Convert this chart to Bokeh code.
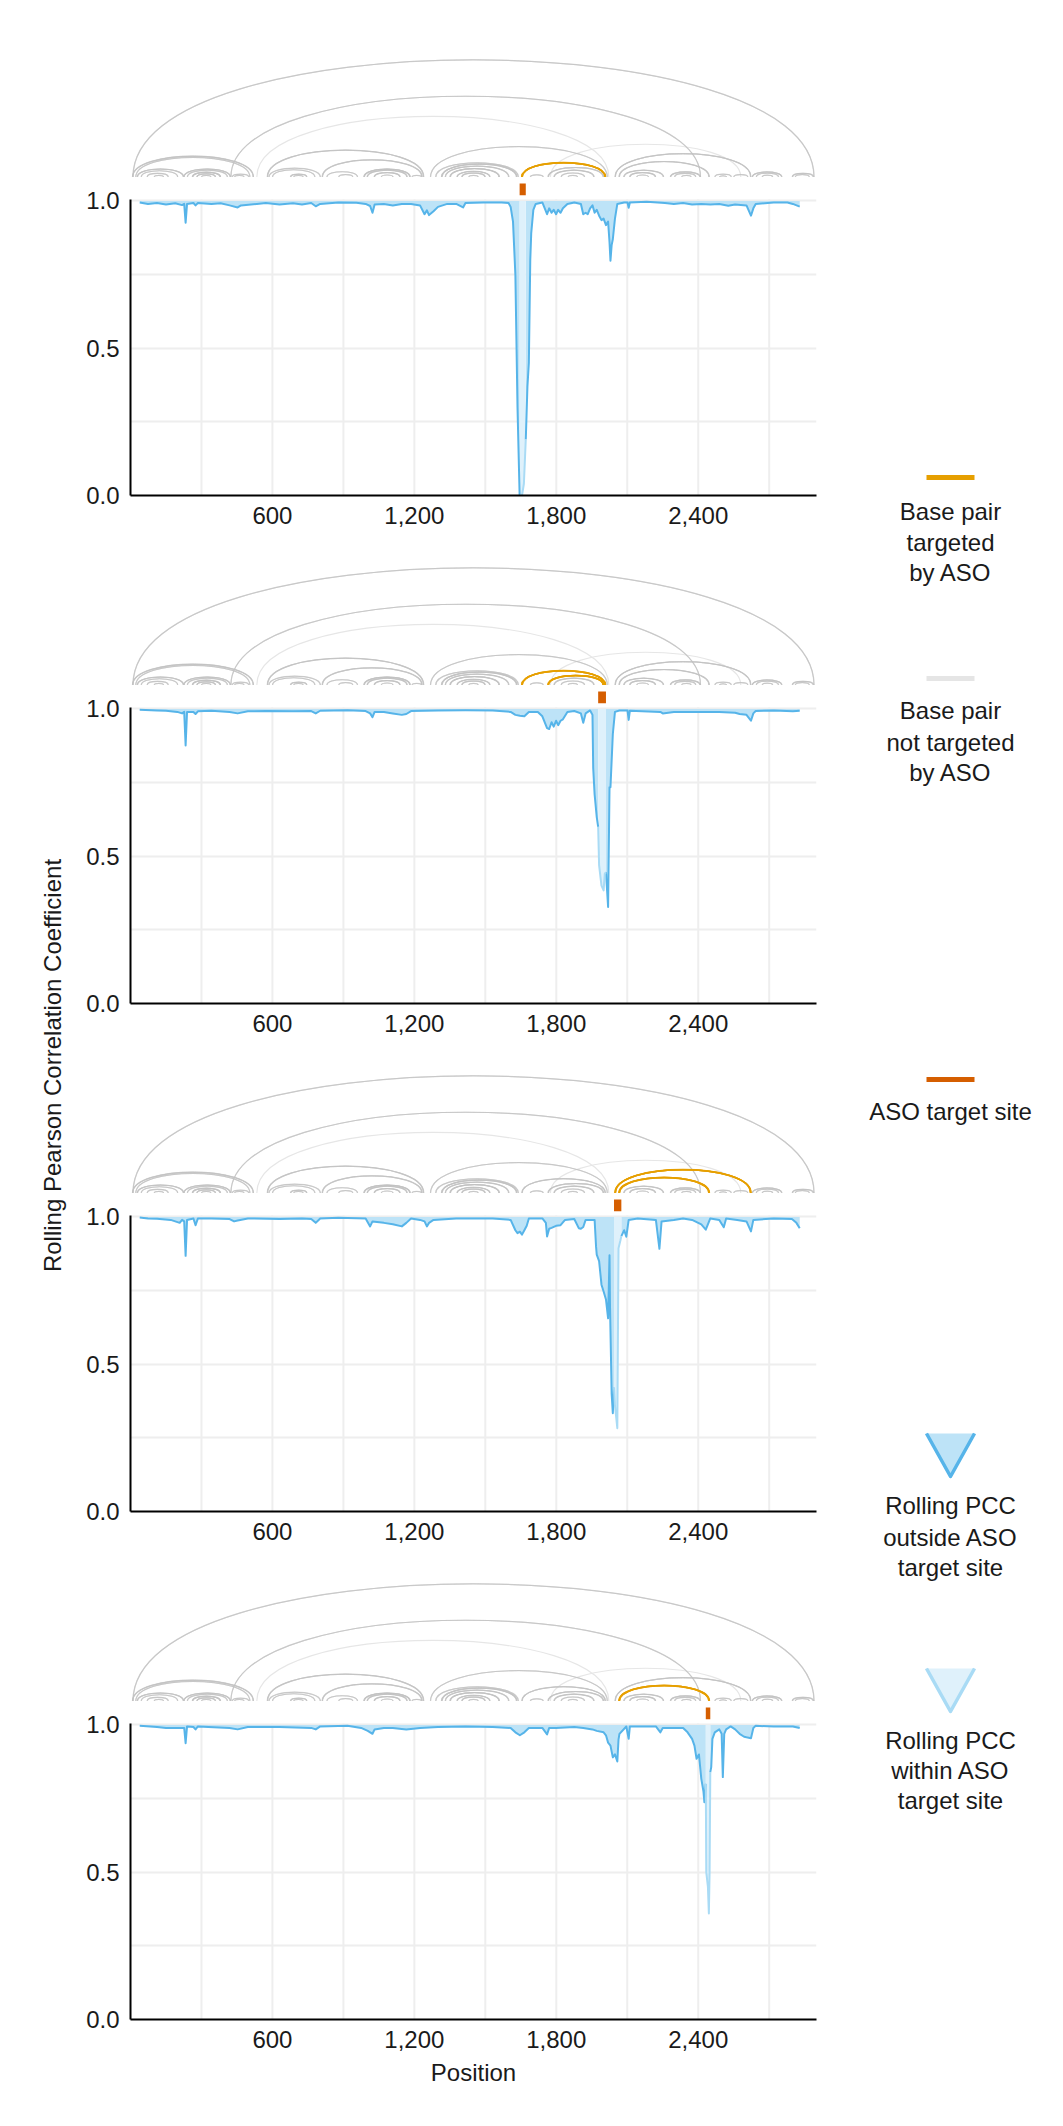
import math
from bokeh.plotting import figure
from bokeh.layouts import row, column
from bokeh.models import Range1d, FixedTicker, NumeralTickFormatter
from bokeh.embed import file_html
from bokeh.resources import INLINE
from bokeh.core.properties import value

# helices of the RNA structure: (5' position, 3' position, number of base pairs)
helices = [
    (10, 2890, 2), (424, 2410, 2),
    (8, 520, 3), (22, 505, 2), (28, 225, 3), (45, 200, 2), (70, 160, 2), (100, 140, 2),
    (225, 423, 3), (240, 410, 2), (261, 381, 4), (280, 360, 3), (300, 340, 2),
    (430, 500, 2), (440, 480, 2),
    (578, 1240, 3), (585, 803, 2), (600, 780, 2), (676, 746, 3), (690, 730, 2),
    (810, 1233, 3), (830, 960, 2), (880, 940, 2), (986, 1183, 4), (1000, 1170, 3),
    (1030, 1140, 3), (1060, 1110, 2), (1190, 1230, 2),
    (1268, 2016, 2), (1290, 1640, 2), (1314, 1634, 4), (1330, 1600, 3), (1350, 1560, 4),
    (1380, 1520, 3), (1400, 1500, 3), (1430, 1470, 2),
    (1654, 2008, 3), (1690, 1745, 2), (1765, 2000, 3), (1790, 1960, 3), (1820, 1920, 2),
    (1850, 1890, 2),
    (2048, 2623, 3), (2065, 2447, 3), (2085, 2254, 3), (2110, 2220, 3), (2140, 2190, 2),
    (2282, 2409, 3), (2300, 2390, 2), (2330, 2370, 2), (2470, 2540, 2), (2490, 2520, 2),
    (2550, 2610, 2),
    (2628, 2754, 3), (2645, 2740, 2), (2670, 2715, 2), (2797, 2888, 3), (2810, 2870, 2),
]
faint_helices = [(534, 2022, 1), (1775, 2580, 1)]

# ASO target sites, one per panel
target_sites = [(1645, 1671), (1977, 2010), (2044, 2075), (2432, 2451)]

# rolling PCC, (position, value)
pcc_1 = [(39, 0.995), (74, 0.99), (112, 0.993), (150, 0.988), (189, 0.992), (218, 0.986), (227, 0.99),
         (233, 0.926), (239, 0.99), (266, 0.993), (275, 0.985), (285, 0.993), (342, 0.99), (381, 0.992),
         (419, 0.985), (453, 0.978), (467, 0.985), (534, 0.99), (572, 0.993), (630, 0.988), (687, 0.992),
         (725, 0.988), (764, 0.993), (783, 0.982), (802, 0.99), (879, 0.995), (955, 0.994), (994, 0.99),
         (1013, 0.983), (1023, 0.96), (1032, 0.988), (1071, 0.99), (1109, 0.985), (1147, 0.99), (1186, 0.99),
         (1224, 0.985), (1243, 0.955), (1253, 0.968), (1262, 0.952), (1281, 0.965), (1300, 0.98), (1339, 0.99),
         (1377, 0.99), (1406, 0.978), (1416, 0.993), (1492, 0.995), (1569, 0.995), (1598, 0.993), (1607, 0.98),
         (1617, 0.93), (1627, 0.75), (1636, 0.3), (1645, 0.0), (1655, 0.0), (1663, 0.04), (1671, 0.19),
         (1678, 0.37), (1684, 0.45), (1690, 0.8), (1694, 0.89), (1703, 0.97), (1713, 0.99), (1741, 0.995),
         (1761, 0.955), (1770, 0.975), (1780, 0.96), (1789, 0.97), (1799, 0.955), (1808, 0.97), (1818, 0.96),
         (1828, 0.975), (1847, 0.99), (1876, 0.995), (1904, 0.99), (1914, 0.955), (1924, 0.96), (1933, 0.955),
         (1943, 0.975), (1953, 0.985), (1962, 0.96), (1971, 0.97), (1981, 0.95), (1991, 0.935), (2000, 0.94),
         (2010, 0.918), (2019, 0.93), (2025, 0.86), (2029, 0.797), (2034, 0.85), (2039, 0.87), (2048, 0.94),
         (2058, 0.99), (2087, 0.995), (2101, 0.995), (2106, 0.977), (2111, 0.995), (2182, 0.997), (2259, 0.993),
         (2297, 0.99), (2336, 0.993), (2374, 0.988), (2413, 0.99), (2451, 0.988), (2489, 0.99), (2527, 0.984),
         (2556, 0.988), (2604, 0.985), (2623, 0.95), (2633, 0.975), (2643, 0.99), (2719, 0.995), (2777, 0.995),
         (2800, 0.99), (2829, 0.981)]
pcc_2 = [(39, 0.997), (112, 0.995), (150, 0.994), (198, 0.99), (218, 0.985), (227, 0.99), (233, 0.876),
         (239, 0.99), (266, 0.99), (275, 0.983), (285, 0.992), (342, 0.994), (419, 0.99), (453, 0.985),
         (496, 0.992), (572, 0.993), (687, 0.992), (764, 0.993), (783, 0.985), (802, 0.994), (917, 0.996),
         (994, 0.993), (1013, 0.985), (1023, 0.972), (1032, 0.99), (1071, 0.99), (1109, 0.985), (1147, 0.98),
         (1166, 0.983), (1186, 0.993), (1300, 0.995), (1416, 0.996), (1531, 0.995), (1607, 0.99), (1627, 0.98),
         (1646, 0.977), (1665, 0.975), (1684, 0.99), (1722, 0.99), (1741, 0.975), (1761, 0.935), (1770, 0.932),
         (1780, 0.955), (1789, 0.94), (1799, 0.96), (1808, 0.945), (1818, 0.96), (1828, 0.965), (1847, 0.99),
         (1876, 0.993), (1904, 0.985), (1914, 0.953), (1924, 0.985), (1943, 0.995), (1953, 0.98), (1956, 0.8),
         (1962, 0.71), (1971, 0.633), (1977, 0.6), (1981, 0.469), (1991, 0.4), (2000, 0.384), (2005, 0.44),
         (2010, 0.446), (2019, 0.328), (2025, 0.734), (2029, 0.734), (2039, 0.915), (2048, 0.99), (2067, 0.995),
         (2101, 0.995), (2106, 0.963), (2111, 0.994), (2240, 0.99), (2250, 0.985), (2297, 0.99), (2374, 0.99),
         (2489, 0.99), (2556, 0.987), (2575, 0.983), (2604, 0.98), (2623, 0.96), (2633, 0.985), (2643, 0.993),
         (2719, 0.995), (2800, 0.992), (2829, 0.994)]
pcc_3 = [(39, 0.998), (74, 0.995), (112, 0.994), (170, 0.99), (189, 0.985), (208, 0.98), (218, 0.99),
         (227, 0.985), (233, 0.868), (239, 0.99), (266, 0.995), (275, 0.972), (285, 0.995), (342, 0.995),
         (419, 0.993), (438, 0.985), (453, 0.988), (496, 0.995), (630, 0.993), (725, 0.995), (764, 0.993),
         (783, 0.98), (802, 0.995), (879, 0.997), (994, 0.995), (1013, 0.968), (1023, 0.985), (1071, 0.98),
         (1109, 0.975), (1147, 0.968), (1166, 0.98), (1186, 0.995), (1224, 0.99), (1243, 0.985), (1253, 0.968),
         (1262, 0.98), (1281, 0.99), (1377, 0.995), (1531, 0.995), (1607, 0.99), (1627, 0.955), (1636, 0.945),
         (1646, 0.95), (1655, 0.94), (1665, 0.955), (1675, 0.97), (1684, 0.995), (1741, 0.995), (1756, 0.98),
         (1761, 0.934), (1770, 0.96), (1780, 0.963), (1799, 0.97), (1818, 0.972), (1837, 0.99), (1876, 0.993),
         (1895, 0.962), (1904, 0.96), (1914, 0.966), (1924, 0.99), (1962, 0.99), (1968, 0.9), (1971, 0.872),
         (1981, 0.85), (1991, 0.77), (2000, 0.747), (2010, 0.72), (2019, 0.656), (2025, 0.87), (2027, 0.7),
         (2034, 0.4), (2039, 0.334), (2044, 0.42), (2048, 0.36), (2058, 0.283), (2063, 0.894), (2071, 0.92),
         (2075, 0.935), (2087, 0.955), (2096, 0.933), (2106, 0.99), (2144, 0.995), (2221, 0.99), (2236, 0.892),
         (2245, 0.985), (2297, 0.99), (2336, 0.995), (2374, 0.99), (2413, 0.975), (2432, 0.957), (2451, 0.995),
         (2489, 0.99), (2508, 0.965), (2518, 0.995), (2565, 0.99), (2604, 0.985), (2623, 0.951), (2633, 0.99),
         (2719, 0.995), (2796, 0.993), (2815, 0.98), (2829, 0.962)]
pcc_4 = [(39, 0.997), (112, 0.993), (150, 0.99), (208, 0.99), (227, 0.99), (233, 0.938), (239, 0.995),
         (266, 0.993), (275, 0.985), (285, 0.995), (419, 0.99), (453, 0.985), (496, 0.993), (630, 0.993),
         (764, 0.99), (783, 0.985), (802, 0.995), (917, 0.997), (975, 0.99), (1003, 0.98), (1023, 0.97),
         (1032, 0.985), (1071, 0.99), (1109, 0.99), (1166, 0.985), (1224, 0.99), (1300, 0.993), (1416, 0.995),
         (1531, 0.993), (1607, 0.99), (1627, 0.975), (1646, 0.965), (1665, 0.975), (1684, 0.99), (1741, 0.99),
         (1761, 0.968), (1770, 0.99), (1799, 0.99), (1876, 0.993), (1914, 0.99), (1953, 0.985), (1971, 0.98),
         (2000, 0.975), (2010, 0.965), (2019, 0.94), (2029, 0.93), (2039, 0.89), (2048, 0.9), (2058, 0.876),
         (2063, 0.95), (2067, 0.97), (2096, 0.995), (2106, 0.953), (2111, 0.995), (2221, 0.995), (2240, 0.975),
         (2250, 0.99), (2336, 0.99), (2355, 0.975), (2374, 0.953), (2384, 0.93), (2393, 0.885), (2403, 0.9),
         (2413, 0.817), (2422, 0.775), (2426, 0.738), (2432, 0.8), (2434, 0.5), (2441, 0.45), (2445, 0.36),
         (2448, 0.5), (2451, 0.84), (2455, 0.857), (2460, 0.953), (2470, 0.975), (2489, 0.985), (2499, 0.97),
         (2504, 0.823), (2510, 0.97), (2518, 0.985), (2537, 0.995), (2556, 0.985), (2575, 0.97), (2594, 0.96),
         (2604, 0.958), (2623, 0.955), (2633, 0.99), (2643, 0.997), (2719, 0.995), (2800, 0.995), (2829, 0.99)]
pcc_series = [pcc_1, pcc_2, pcc_3, pcc_4]

x_ticks = [600, 1200, 1800, 2400]
x_grid = [300, 600, 900, 1200, 1500, 1800, 2100, 2400, 2700]
y_ticks = [0.0, 0.5, 1.0]
y_grid = [0.25, 0.5, 0.75, 1.0]

FONT = "Liberation Sans"
INK = "#1a1a1a"
BLUE = "#56b4e9"
BLUE_FILL = "#bde3f7"
BLUE_IN = "#a9dbf5"
BLUE_IN_FILL = "#dff1fb"
ORANGE = "#e69f00"
RED = "#d55e00"
ARC_GREY = "#c2c2c2"
GRID = "#eeeeee"

LEFT_W = 70          # y-label column, page x 0..70
FRAME_W = 686
BL, BR = 60, 10
PW = BL + FRAME_W + BR
LEG_W = 221
ARC_H = 145          # px above the PCC frame used for the arcs
DATA_H = 296         # px of the PCC frame
BASE_GAP = 22.5      # px between arc baseline and top of PCC frame
TOP_PAD = 54
GAP_B = 67
LAST_B = 92
Y_TOP = 1.005
ARC_RATIO = 0.172
TOTAL_H = TOP_PAD + 4 * (ARC_H + DATA_H) + 3 * GAP_B + LAST_B

xr = Range1d(0, 2900)
px_per_unit = FRAME_W / 2900


def pairs_of(hel):
    out = []
    for i, j, n in hel:
        for k in range(n):
            out.append((i + k, j - k))
    return out


def draw_arcs(p, pairs, color, lw, alpha):
    if not pairs:
        return
    x0 = [a for a, b in pairs]
    x1 = [b for a, b in pairs]
    cy = [ARC_RATIO * (b - a) * px_per_unit * 4 / 3 for a, b in pairs]
    zero = [0] * len(pairs)
    p.bezier(x0=x0, y0=zero, x1=x1, y1=zero, cx0=x0, cy0=cy, cx1=x1, cy1=cy,
             line_color=color, line_width=lw, line_alpha=alpha, y_range_name="arc")


def panel(points, site, first, last):
    top = TOP_PAD if first else 0
    bottom = LAST_B if last else GAP_B
    frame_h = ARC_H + DATA_H
    p = figure(width=PW, height=frame_h + top + bottom, x_range=xr,
               y_range=Range1d(0, Y_TOP * frame_h / DATA_H),
               toolbar_location=None, output_backend="svg", min_border_left=BL,
               min_border_right=BR, min_border_top=top, min_border_bottom=bottom,
               outline_line_color=None)
    # arc coordinates in px, baseline at 0
    p.extra_y_ranges = {"arc": Range1d(-BASE_GAP - DATA_H, ARC_H - BASE_GAP)}

    # vertical grid only inside the PCC area
    p.segment(x0=x_grid, y0=[0] * len(x_grid), x1=x_grid, y1=[Y_TOP] * len(x_grid),
              line_color=GRID, line_width=2)

    s, e = site
    hit = lambda a, b: s <= a <= e or s <= b <= e
    pairs = pairs_of(helices)
    draw_arcs(p, pairs_of(faint_helices), "#e6e6e6", 1.2, 1.0)
    draw_arcs(p, [q for q in pairs if not hit(*q)], ARC_GREY, 1.1, 0.7)
    draw_arcs(p, [q for q in pairs if hit(*q)], ORANGE, 1.6, 1.0)
    p.quad(left=[s], right=[e], bottom=[-18.3], top=[-6.6], fill_color=RED, line_color=None,
           y_range_name="arc")

    left = [q for q in points if q[0] <= s]
    inside = [q for q in points if s <= q[0] <= e]
    right = [q for q in points if q[0] >= e]
    for seg in (left, right):
        p.varea(x=[a for a, b in seg], y1=[b for a, b in seg], y2=[1.0] * len(seg),
                fill_color=BLUE_FILL)
    p.varea(x=[a for a, b in inside], y1=[b for a, b in inside], y2=[1.0] * len(inside),
            fill_color=BLUE_IN_FILL)
    for seg in (left, right):
        p.line([a for a, b in seg], [b for a, b in seg], line_color=BLUE, line_width=2,
               line_join="round")
    p.line([a for a, b in inside], [b for a, b in inside], line_color=BLUE_IN, line_width=2,
           line_join="round")

    p.xgrid.visible = False
    p.ygrid.ticker = FixedTicker(ticks=y_grid)
    p.ygrid.grid_line_color = GRID
    p.ygrid.grid_line_width = 2
    p.xaxis.ticker = FixedTicker(ticks=x_ticks)
    p.yaxis.ticker = FixedTicker(ticks=y_ticks)
    p.yaxis.bounds = (0, Y_TOP)
    p.xaxis.formatter = NumeralTickFormatter(format="0,0")
    p.yaxis.formatter = NumeralTickFormatter(format="0.0")
    p.axis.axis_line_color = "black"
    p.axis.axis_line_width = 2
    p.axis.major_tick_line_color = None
    p.axis.minor_tick_line_color = None
    p.axis.major_tick_out = 0
    p.axis.major_label_text_font = FONT
    p.axis.major_label_text_font_size = "24px"
    p.axis.major_label_text_color = INK
    p.axis.major_label_standoff = 11
    if last:
        p.xaxis.axis_label = "Position"
        p.xaxis.axis_label_text_font = FONT
        p.xaxis.axis_label_text_font_size = "24px"
        p.xaxis.axis_label_text_font_style = "normal"
        p.xaxis.axis_label_text_color = INK
        p.xaxis.axis_label_standoff = 8
    return p


panels = [panel(pts, site, i == 0, i == 3)
          for i, (pts, site) in enumerate(zip(pcc_series, target_sites))]


def blank(width, x0):
    # page-pixel coordinates, y downwards
    p = figure(width=width, height=TOTAL_H, x_range=Range1d(x0, x0 + width),
               y_range=Range1d(TOTAL_H, 0), x_axis_location=None, y_axis_location=None,
               toolbar_location=None, output_backend="svg", min_border=0,
               outline_line_color=None)
    p.xgrid.visible = False
    p.ygrid.visible = False
    return p


ylab = blank(LEFT_W, 0)
ylab.text(x=[52], y=[1065], text=["Rolling Pearson Correlation Coefficient"], angle=math.pi / 2,
          text_font=value(FONT), text_font_size="24px", text_align="center",
          text_baseline="middle", text_color=INK)

leg = blank(LEG_W, LEFT_W + PW)
for yy, col in [(477, ORANGE), (678, "#e5e5e5"), (1079, RED)]:
    leg.line([926, 974], [yy, yy], line_color=col, line_width=5)
for top, fill, edge in [(1433, BLUE_FILL, BLUE), (1668, BLUE_IN_FILL, BLUE_IN)]:
    leg.patch([925, 975, 950], [top, top, top + 43], fill_color=fill, line_color=None)
    leg.line([926, 950, 974], [top, top + 43, top], line_color=edge, line_width=3.5,
             line_join="round")
legend_text = [
    ("Base pair", 511), ("targeted", 542), ("by ASO", 572),
    ("Base pair", 710), ("not targeted", 742), ("by ASO", 772),
    ("ASO target site", 1111),
    ("Rolling PCC", 1505), ("outside ASO", 1537), ("target site", 1567),
    ("Rolling PCC", 1740), ("within ASO", 1770), ("target site", 1800),
]
leg.text(x=[950] * len(legend_text), y=[t[1] for t in legend_text], text=[t[0] for t in legend_text],
         text_font=value(FONT), text_font_size="24px", text_align="center",
         text_baseline="middle", text_color=INK)

layout = row(ylab, column(*panels), leg)
open("out.html", "w").write(file_html(layout, INLINE))
